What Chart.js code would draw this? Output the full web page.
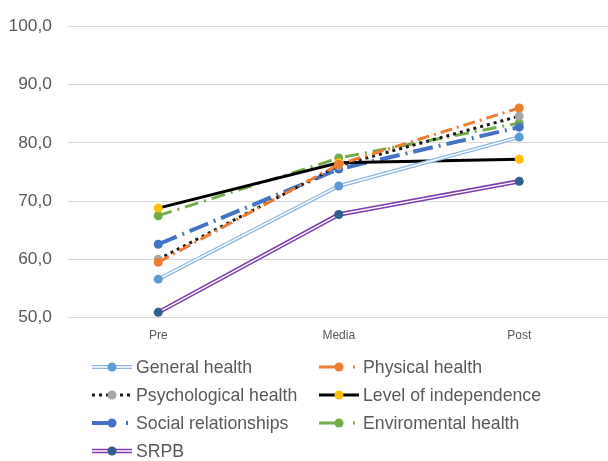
<!DOCTYPE html>
<html>
<head>
<meta charset="utf-8">
<script src="https://cdn.jsdelivr.net/npm/chart.js@4.4.1/dist/chart.umd.min.js"></script>
<style>
  html, body { margin: 0; padding: 0; background: #fff; overflow: hidden; }
  #wrap { position: relative; width: 608px; height: 461px; overflow: hidden; }
  #chartBox { position: absolute; left: 0; top: 0; width: 614px; height: 354px; }
  #legend { position: absolute; left: 0; top: 353px; width: 608px; font-family: "Liberation Sans", Arial, sans-serif; font-size: 17.7px; color: #595959; }
  .item { position: absolute; height: 28px; display: flex; align-items: center; white-space: nowrap; }
  .item svg { margin-right: 4px; }
</style>
</head>
<body>
<div id="wrap">
  <div id="chartBox"><canvas id="qolChart"></canvas></div>
  <div id="legend"></div>
</div>
<script>
// Dados
const categories = ['Pre', 'Media', 'Post'];
const yTicks = [50, 60, 70, 80, 90, 100];

const generalHealth = [56.6, 72.6, 81.0];
const physicalHealth = [59.5, 76.3, 86.0];
const psychologicalHealth = [60.0, 76.1, 84.6];
const levelOfIndependence = [68.8, 76.6, 77.2];
const socialRelationships = [62.6, 75.5, 82.7];
const enviromentalHealth = [67.5, 77.4, 83.4];
const srpb = [50.9, 67.7, 73.4];

// Estilos de cada série (legendDash = padrão da amostra na legenda)
const series = [
  { label: 'General health', data: generalHealth, color: '#8DB8E2', point: '#5B9BD5', width: 4, dash: [], double: true },
  { label: 'Physical health', data: physicalHealth, color: '#ED7D31', point: '#ED7D31', width: 3, dash: [12, 5, 2, 5], legendDash: [24, 10, 2, 10] },
  { label: 'Psychological health', data: psychologicalHealth, color: '#1a1a1a', point: '#A5A5A5', width: 3, dash: [3, 4] },
  { label: 'Level of independence', data: levelOfIndependence, color: '#000000', point: '#FFC000', width: 3, dash: [] },
  { label: 'Social relationships', data: socialRelationships, color: '#4472C4', point: '#4472C4', width: 4, dash: [20, 6, 2, 6], legendDash: [24, 10, 2, 10] },
  { label: 'Enviromental health', data: enviromentalHealth, color: '#70AD47', point: '#70AD47', width: 3, dash: [14, 6, 2, 6], legendDash: [24, 10, 2, 10] },
  { label: 'SRPB', data: srpb, color: '#7D3CB0', point: '#2E5D8E', width: 4.5, dash: [], double: true }
];

// Plugin: linha dupla (estilo Excel)
const doubleLinePlugin = {
  id: 'doubleLine',
  beforeDatasetDraw(chart, args) {
    const ds = chart.data.datasets[args.index];
    if (!ds.double) return;
    const pts = args.meta.data;
    const ctx = chart.ctx;
    ctx.save();
    ctx.lineJoin = 'round';
    ctx.beginPath();
    pts.forEach((p, i) => { if (i === 0) ctx.moveTo(p.x, p.y); else ctx.lineTo(p.x, p.y); });
    ctx.strokeStyle = ds.lineColor;
    ctx.lineWidth = ds.lineWidthOuter;
    ctx.stroke();
    ctx.strokeStyle = '#ffffff';
    ctx.lineWidth = 1.4;
    ctx.stroke();
    ctx.restore();
  }
};

const datasets = series.map(s => ({
  label: s.label,
  data: s.data,
  borderColor: s.color,
  borderWidth: s.width,
  borderDash: s.dash,
  borderCapStyle: 'butt',
  showLine: !s.double,
  double: !!s.double,
  lineColor: s.color,
  lineWidthOuter: s.width,
  pointBackgroundColor: s.point,
  pointBorderColor: s.point,
  pointBorderWidth: 0,
  pointRadius: 4.5,
  tension: 0
}));

new Chart(document.getElementById('qolChart'), {
  type: 'line',
  data: { labels: categories, datasets: datasets },
  plugins: [doubleLinePlugin],
  options: {
    responsive: true,
    maintainAspectRatio: false,
    animation: false,
    layout: { padding: { top: 24, right: 0, left: 0, bottom: 0 } },
    plugins: { legend: { display: false }, tooltip: { enabled: false } },
    scales: {
      x: {
        offset: true,
        grid: { display: false, drawTicks: false },
        border: { display: false },
        ticks: { color: '#595959', padding: 11, font: { family: 'Liberation Sans, Arial, sans-serif', size: 12 } }
      },
      y: {
        min: 50,
        max: 100,
        afterFit: (scale) => { scale.width = 68; },
        afterBuildTicks: (scale) => { scale.ticks = yTicks.map(v => ({ value: v })); },
        grid: { color: '#D9D9D9', lineWidth: 1, drawTicks: false },
        border: { display: false },
        ticks: {
          color: '#595959',
          padding: 16,
          font: { family: 'Liberation Sans, Arial, sans-serif', size: 17.4 },
          callback: (v) => v.toFixed(1).replace('.', ',')
        }
      }
    }
  }
});

// Legenda em HTML (duas colunas, como no Excel)
const legend = document.getElementById('legend');
const colX = [92, 319];
series.forEach((s, i) => {
  const item = document.createElement('div');
  item.className = 'item';
  item.style.left = colX[i % 2] + 'px';
  item.style.top = (Math.floor(i / 2) * 28) + 'px';
  let line;
  if (s.double) {
    line = `<line x1="0" y1="14" x2="40" y2="14" stroke="${s.color}" stroke-width="${s.width}"/>` +
           `<line x1="0" y1="14" x2="40" y2="14" stroke="#fff" stroke-width="1.4"/>`;
  } else {
    const dash = (s.legendDash || s.dash).join(' ');
    line = `<line x1="0" y1="14" x2="40" y2="14" stroke="${s.color}" stroke-width="${s.width}" stroke-dasharray="${dash}"/>`;
  }
  item.innerHTML = `<svg width="40" height="28">${line}<circle cx="20" cy="14" r="4.5" fill="${s.point}"/></svg><span>${s.label}</span>`;
  legend.appendChild(item);
});
</script>
</body>
</html>
